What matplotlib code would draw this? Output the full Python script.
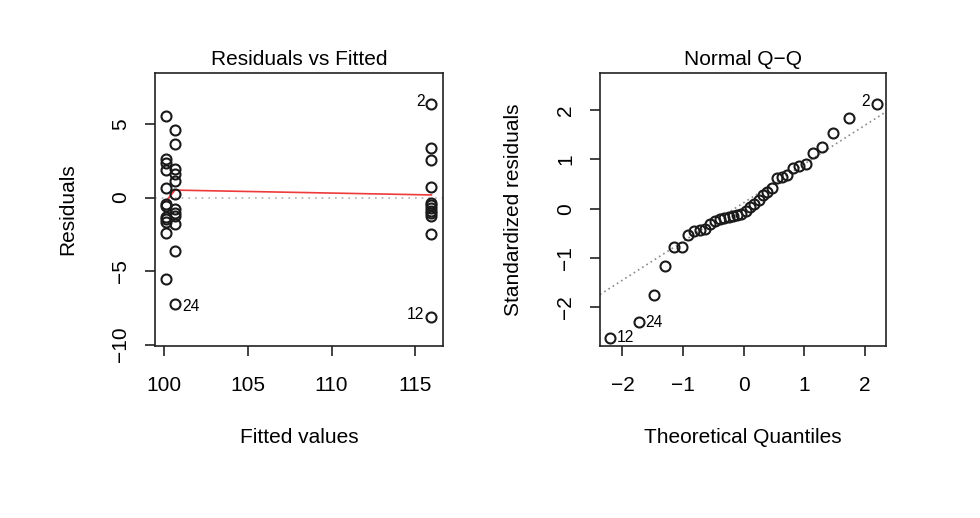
import numpy as np
import matplotlib
matplotlib.use("Agg")
import matplotlib.pyplot as plt
from statistics import NormalDist

plt.rcParams['font.family'] = ['Liberation Sans', 'DejaVu Sans']

# ---- Residuals vs Fitted data ----
fitted_groups = [100.12, 100.66, 115.96]
resid_a = [5.52, 2.64, 2.37, 1.85, 0.68, -0.45, -0.57, -1.30, -1.47, -1.69, -2.42, -5.53]
resid_b = [4.57, 3.67, 1.96, 1.60, 1.12, 0.22, -0.79, -1.05, -1.24, -1.81, -3.61, -7.22]
resid_c = [6.38, 3.38, 2.59, 0.74, -0.34, -0.52, -0.70, -0.88, -1.05, -1.24, -2.48, -8.12]
smooth_y = [-0.23, 0.51, 0.18]

# labelled observations: (group index, residual, label)
rvf_labels = [(2, 6.38, "2"), (2, -8.12, "12"), (1, -7.22, "24")]

# ---- Normal Q-Q data (sorted standardized residuals) ----
std_resid = [-2.61, -2.30, -1.75, -1.16, -0.78, -0.77, -0.54, -0.46, -0.43,
             -0.40, -0.30, -0.24, -0.21, -0.18, -0.17, -0.15, -0.13, -0.10,
             -0.04, 0.04, 0.10, 0.17, 0.27, 0.33, 0.42, 0.62, 0.64, 0.68,
             0.83, 0.87, 0.91, 1.13, 1.25, 1.54, 1.83, 2.12]
qq_labels = {0: "12", 1: "24", 35: "2"}

FS = 15
LW = 1.2
MS = 7.2
MEW = 1.5

fig = plt.figure(figsize=(9.8, 5.18), dpi=100)

def style(ax):
    for s in ax.spines.values():
        s.set_linewidth(LW)
        s.set_color('#222222')
    ax.tick_params(axis='x', direction='out', length=7, width=LW, labelsize=FS, pad=14.5,
                   color='#222222')
    ax.tick_params(axis='y', direction='out', length=7, width=LW, labelsize=FS, pad=11,
                   color='#222222')
    for lab in ax.get_yticklabels():
        lab.set_rotation(90)
        lab.set_va('center')

# Left panel
ax1 = fig.add_axes([155/980, 1-346/518, 288/980, 273/518])
xs = np.concatenate([np.full(len(resid_a), fitted_groups[0]),
                     np.full(len(resid_b), fitted_groups[1]),
                     np.full(len(resid_c), fitted_groups[2])])
ys = np.concatenate([resid_a, resid_b, resid_c])
ax1.axhline(0, color='#b0b0b0', linestyle=(0, (1, 3)), linewidth=LW, zorder=1)
ax1.plot(fitted_groups, smooth_y, color='#ee3a3a', linewidth=LW, zorder=2)
ax1.plot(xs, ys, linestyle='none', marker='o', markersize=MS,
         markerfacecolor='none', markeredgecolor='#1a1a1a', markeredgewidth=MEW, zorder=3)
ax1.set_xlim(99.46, 116.65)
ax1.set_ylim(-10.1, 8.48)
ax1.set_xticks([100, 105, 110, 115])
ax1.set_yticks([-10, -5, 0, 5])
ax1.set_yticklabels(['\u221210', '\u22125', '0', '5'])
xmid = np.mean(ax1.get_xlim())
for gi, r, lab in rvf_labels:
    x = fitted_groups[gi]
    if x < xmid:
        ax1.annotate(lab, (x, r), xytext=(5, -2), textcoords='offset points',
                     ha='left', va='center', fontsize=FS*0.75)
    else:
        ax1.annotate(lab, (x, r), xytext=(-5, 2), textcoords='offset points',
                     ha='right', va='center', fontsize=FS*0.75)
ax1.set_title('Residuals vs Fitted', fontsize=FS, pad=6)
ax1.set_xlabel('Fitted values', fontsize=FS, labelpad=24)
ax1.set_ylabel('Residuals', fontsize=FS, labelpad=24)
style(ax1)

# Right panel
ax2 = fig.add_axes([600/980, 1-346/518, 286/980, 273/518])
n = len(std_resid)
nd = NormalDist()
theo = [nd.inv_cdf((i + 0.5) / n) for i in range(n)]
q1, q3 = np.percentile(std_resid, [25, 75])
t1, t3 = nd.inv_cdf(0.25), nd.inv_cdf(0.75)
slope = (q3 - q1) / (t3 - t1)
icpt = q1 - slope * t1
ax2.axline((0, icpt), slope=slope, color='#8a8a8a', linestyle=(0, (1, 2)),
           linewidth=LW, zorder=1)
ax2.plot(theo, std_resid, linestyle='none', marker='o', markersize=MS,
         markerfacecolor='none', markeredgecolor='#1a1a1a', markeredgewidth=MEW, zorder=3)
ax2.set_xlim(-2.37, 2.35)
ax2.set_ylim(-2.78, 2.75)
ax2.set_xticks([-2, -1, 0, 1, 2])
ax2.set_xticklabels(['\u22122', '\u22121', '0', '1', '2'])
ax2.set_yticks([-2, -1, 0, 1, 2])
ax2.set_yticklabels(['\u22122', '\u22121', '0', '1', '2'])
for i, lab in qq_labels.items():
    if theo[i] < 0:
        ax2.annotate(lab, (theo[i], std_resid[i]), xytext=(5, 0), textcoords='offset points',
                     ha='left', va='center', fontsize=FS*0.75)
    else:
        ax2.annotate(lab, (theo[i], std_resid[i]), xytext=(-5, 2), textcoords='offset points',
                     ha='right', va='center', fontsize=FS*0.75)
ax2.set_title('Normal Q\u2212Q', fontsize=FS, pad=6)
ax2.set_xlabel('Theoretical Quantiles', fontsize=FS, labelpad=24)
ax2.set_ylabel('Standardized residuals', fontsize=FS, labelpad=24)
style(ax2)

fig.savefig('out.png', dpi=100)
